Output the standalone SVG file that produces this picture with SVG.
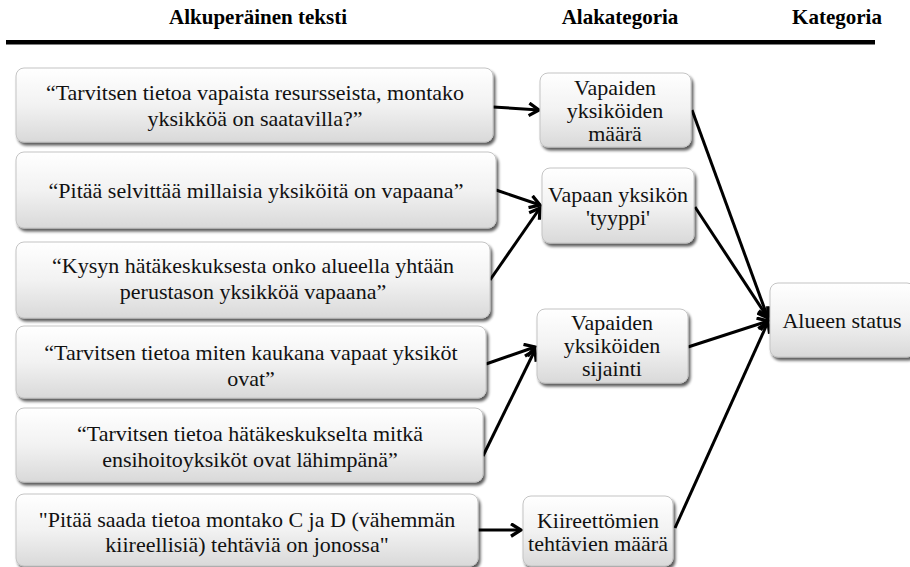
<svg xmlns="http://www.w3.org/2000/svg" width="910" height="567" viewBox="0 0 910 567">
  <style>
    text { font-family: "Liberation Serif", "Times New Roman", serif; }
    .hdr { font-weight: bold; font-size: 21px; fill: #000; text-anchor: middle; }
    .txt { font-size: 22px; fill: #111; text-anchor: middle; }
    .box { fill: url(#boxFill); stroke: #c4c4c4; stroke-width: 1; filter: url(#shadow); }
    .edge { fill: none; stroke: #000; stroke-width: 3; marker-end: url(#arrow); }
  </style>
  <defs>
    <linearGradient id="boxFill" x1="0" y1="0" x2="0" y2="1">
      <stop offset="0" stop-color="#ffffff"/>
      <stop offset="0.5" stop-color="#f2f2f2"/>
      <stop offset="1" stop-color="#d9d9d9"/>
    </linearGradient>
    <filter id="shadow" x="-5%" y="-10%" width="115%" height="130%">
      <feGaussianBlur in="SourceAlpha" stdDeviation="1.6"/>
      <feOffset dx="1.5" dy="2.5" result="b"/>
      <feComponentTransfer><feFuncA type="linear" slope="0.65"/></feComponentTransfer>
      <feMerge><feMergeNode/><feMergeNode in="SourceGraphic"/></feMerge>
    </filter>
    <marker id="arrow" viewBox="0 0 12 12" refX="10" refY="6" markerWidth="5" markerHeight="5" orient="auto" markerUnits="strokeWidth">
      <path d="M2,1 L10,6 L2,11" fill="none" stroke="#000" stroke-width="2.6" stroke-linejoin="miter"/>
    </marker>
  </defs>

  <!-- column headings and rule -->
  <g id="headings">
    <text class="hdr" x="258" y="24">Alkuperäinen teksti</text>
    <text class="hdr" x="620" y="24">Alakategoria</text>
    <text class="hdr" x="837" y="24">Kategoria</text>
    <rect x="6" y="40" width="869" height="4.5" fill="#000"/>
  </g>

  <!-- connectors -->
  <g id="connectors">
    <path class="edge" d="M493,107 L539,110"/>
    <path class="edge" d="M496,190 L540,205"/>
    <path class="edge" d="M490,280 L540,208"/>
    <path class="edge" d="M486,364 L535,347"/>
    <path class="edge" d="M483,456 L535,350"/>
    <path class="edge" d="M478,530 L521,530"/>
    <path class="edge" d="M692,110 L768,318"/>
    <path class="edge" d="M695,207 L768,318"/>
    <path class="edge" d="M688,347 L768,321"/>
    <path class="edge" d="M675,528 L768,322"/>
  </g>

  <!-- quotes -->
  <g id="q1">
    <rect class="box" x="16" y="68" width="477" height="74" rx="8"/>
    <text class="txt" x="255" y="100">“Tarvitsen tietoa vapaista resursseista, montako</text>
    <text class="txt" x="255" y="126">yksikköä on saatavilla?”</text>
  </g>
  <g id="q2">
    <rect class="box" x="16" y="152" width="480" height="76" rx="8"/>
    <text class="txt" x="256" y="198">“Pitää selvittää millaisia yksiköitä on vapaana”</text>
  </g>
  <g id="q3">
    <rect class="box" x="16" y="242" width="474" height="76" rx="8"/>
    <text class="txt" x="253" y="273">“Kysyn hätäkeskuksesta onko alueella yhtään</text>
    <text class="txt" x="253" y="299">perustason yksikköä vapaana”</text>
  </g>
  <g id="q4">
    <rect class="box" x="16" y="326" width="470" height="72" rx="8"/>
    <text class="txt" x="251" y="360">“Tarvitsen tietoa miten kaukana vapaat yksiköt</text>
    <text class="txt" x="251" y="386">ovat”</text>
  </g>
  <g id="q5">
    <rect class="box" x="16" y="408" width="467" height="74" rx="8"/>
    <text class="txt" x="250" y="441">“Tarvitsen tietoa hätäkeskukselta mitkä</text>
    <text class="txt" x="250" y="467">ensihoitoyksiköt ovat lähimpänä”</text>
  </g>
  <g id="q6">
    <rect class="box" x="16" y="494" width="462" height="72" rx="8"/>
    <text class="txt" x="247" y="527">"Pitää saada tietoa montako C ja D (vähemmän</text>
    <text class="txt" x="247" y="552">kiireellisiä) tehtäviä on jonossa"</text>
  </g>

  <!-- subcategories -->
  <g id="s1">
    <rect class="box" x="540" y="73" width="151" height="74" rx="8"/>
    <text class="txt" x="615" y="95">Vapaiden</text>
    <text class="txt" x="615" y="118">yksiköiden</text>
    <text class="txt" x="615" y="141">määrä</text>
  </g>
  <g id="s2">
    <rect class="box" x="542" y="168" width="152" height="75" rx="8"/>
    <text class="txt" x="618" y="202">Vapaan yksikön</text>
    <text class="txt" x="618" y="225">'tyyppi'</text>
  </g>
  <g id="s3">
    <rect class="box" x="537" y="309" width="151" height="74" rx="8"/>
    <text class="txt" x="612" y="330">Vapaiden</text>
    <text class="txt" x="612" y="353">yksiköiden</text>
    <text class="txt" x="612" y="376">sijainti</text>
  </g>
  <g id="s4">
    <rect class="box" x="523" y="496" width="150" height="70" rx="8"/>
    <text class="txt" x="598" y="528">Kiireettömien</text>
    <text class="txt" x="598" y="551">tehtävien määrä</text>
  </g>

  <!-- category -->
  <g id="c1">
    <rect class="box" x="770" y="283" width="145" height="74" rx="8"/>
    <text class="txt" x="842" y="328">Alueen status</text>
  </g>
</svg>
